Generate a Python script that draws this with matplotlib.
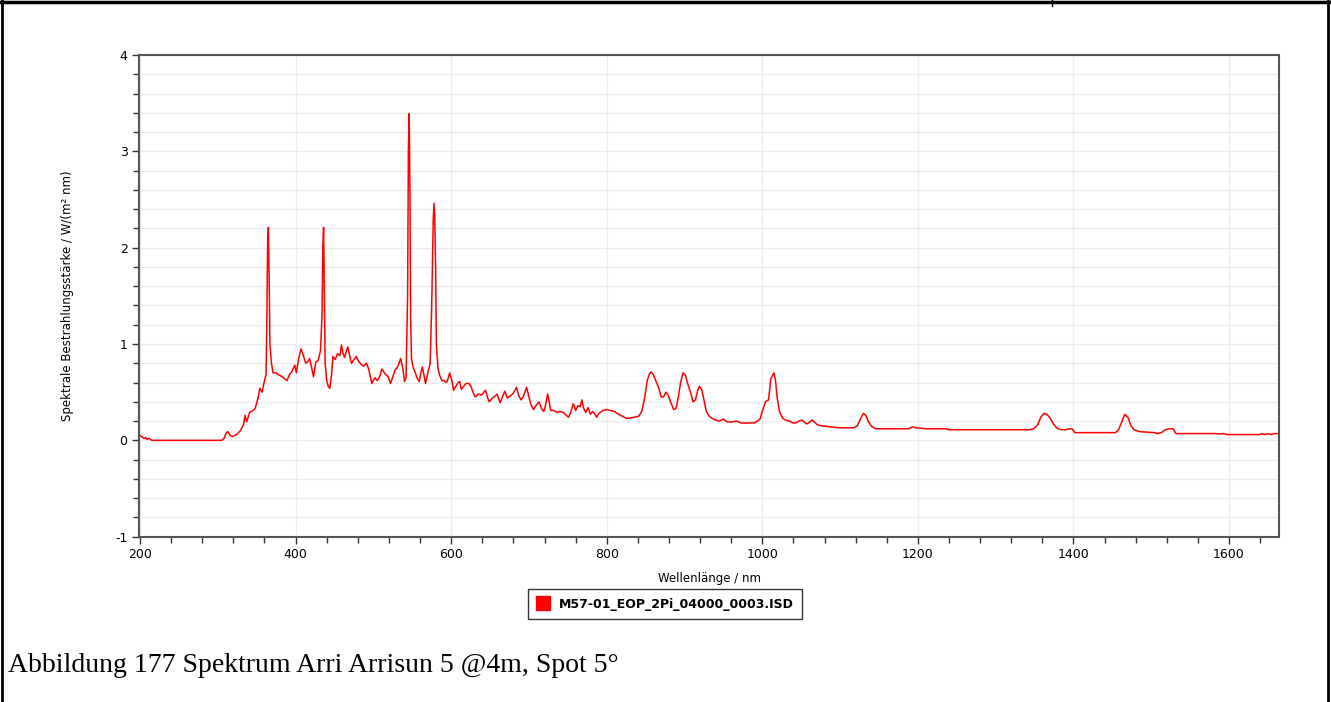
import numpy as np
import matplotlib
matplotlib.use("Agg")
import matplotlib.pyplot as plt
from matplotlib.lines import Line2D
from matplotlib.ticker import MultipleLocator

# wavelength in nm
wavelength = [
    198, 200, 202, 205, 207, 209, 212, 215, 220, 305, 308, 311, 313, 316, 319,
    324, 329, 333, 335, 337, 341, 345, 348, 352, 354, 357, 360, 362, 363, 364,
    365, 366, 367, 369, 371, 375, 378, 383, 389, 392, 395, 399, 401, 404, 407,
    410, 413, 416, 418, 421, 423, 426, 429, 432, 434, 435, 436, 437, 438, 440,
    442, 444, 446, 448, 451, 454, 457, 459, 461, 463, 465, 467, 470, 472, 475,
    478, 481, 483, 487, 491, 494, 498, 502, 505, 508, 511, 515, 519, 522, 525,
    528, 531, 535, 538, 540, 542, 544, 545, 546, 547, 548, 549, 551, 554, 556,
    559, 561, 563, 565, 567, 570, 573, 575, 577, 578, 579, 580, 581, 583, 585,
    588, 591, 594, 596, 598, 601, 603, 606, 609, 611, 613, 616, 619, 623, 626,
    628, 631, 635, 639, 642, 644, 647, 649, 652, 655, 659, 663, 666, 669, 672,
    676, 680, 684, 687, 690, 693, 697, 700, 703, 706, 709, 713, 716, 719, 721,
    724, 726, 728, 732, 736, 740, 744, 748, 751, 754, 757, 760, 763, 766, 768,
    770, 773, 776, 779, 782, 785, 787, 790, 795, 800, 805, 810, 815, 820, 825,
    830, 835, 841, 845, 849, 852, 855, 857, 860, 864, 867, 870, 873, 876, 879,
    882, 886, 889, 892, 895, 898, 901, 904, 908, 911, 914, 917, 919, 922, 925,
    928, 932, 935, 940, 945, 950, 955, 960, 967, 973, 980, 985, 989, 994, 997,
    1000, 1004, 1008, 1011, 1015, 1017, 1019, 1022, 1026, 1030, 1034, 1040, 1043, 1047, 1051,
    1054, 1057, 1061, 1064, 1067, 1071, 1077, 1087, 1100, 1110, 1117, 1122, 1126, 1130, 1133,
    1136, 1141, 1146, 1150, 1170, 1188, 1193, 1197, 1212, 1237, 1239, 1300, 1343, 1349, 1354,
    1358, 1362, 1366, 1370, 1375, 1380, 1385, 1390, 1394, 1398, 1402, 1430, 1454, 1458, 1462,
    1466, 1470, 1474, 1478, 1485, 1504, 1508, 1513, 1518, 1524, 1528, 1532, 1560, 1583, 1587,
    1593, 1598, 1640, 1642, 1646, 1650, 1654, 1658, 1664,
]

# spectral irradiance in W/(m² nm)
irradiance = [
    0.07, 0.05, 0.04, 0.02, 0.03, 0.01, 0.02, 0.0, 0.0, 0.0, 0.02, 0.08, 0.09, 0.05, 0.04,
    0.06, 0.10, 0.16, 0.26, 0.19, 0.29, 0.31, 0.33, 0.45, 0.54, 0.50, 0.62, 0.68, 1.2, 2.0,
    2.21, 1.7, 1.0, 0.80, 0.70, 0.70, 0.68, 0.66, 0.62, 0.68, 0.71, 0.78, 0.70, 0.85, 0.95,
    0.88, 0.80, 0.82, 0.85, 0.74, 0.66, 0.81, 0.83, 0.93, 1.3, 2.0, 2.21, 1.5, 0.8, 0.62,
    0.56, 0.54, 0.66, 0.87, 0.84, 0.90, 0.88, 0.99, 0.90, 0.86, 0.92, 0.97, 0.86, 0.80, 0.84,
    0.87, 0.82, 0.80, 0.77, 0.80, 0.74, 0.59, 0.65, 0.62, 0.66, 0.74, 0.69, 0.66, 0.59, 0.66,
    0.73, 0.76, 0.85, 0.74, 0.61, 0.65, 1.5, 3.0, 3.39, 2.6, 1.2, 0.85, 0.76, 0.70, 0.65,
    0.61, 0.70, 0.76, 0.68, 0.59, 0.70, 0.80, 1.4, 2.3, 2.46, 2.3, 1.8, 1.0, 0.75, 0.68,
    0.62, 0.62, 0.60, 0.64, 0.70, 0.62, 0.52, 0.56, 0.60, 0.61, 0.53, 0.56, 0.59, 0.59, 0.55,
    0.50, 0.45, 0.48, 0.47, 0.50, 0.52, 0.44, 0.40, 0.43, 0.45, 0.48, 0.39, 0.45, 0.51, 0.44,
    0.46, 0.49, 0.55, 0.46, 0.42, 0.46, 0.55, 0.45, 0.36, 0.32, 0.36, 0.40, 0.33, 0.30, 0.35,
    0.48, 0.40, 0.31, 0.31, 0.29, 0.30, 0.29, 0.26, 0.24, 0.30, 0.38, 0.31, 0.36, 0.35, 0.42,
    0.34, 0.29, 0.34, 0.27, 0.30, 0.27, 0.24, 0.28, 0.31, 0.32, 0.31, 0.30, 0.27, 0.25, 0.23,
    0.23, 0.24, 0.25, 0.30, 0.45, 0.62, 0.69, 0.71, 0.68, 0.60, 0.54, 0.45, 0.45, 0.50, 0.47,
    0.40, 0.32, 0.33, 0.45, 0.60, 0.70, 0.68, 0.59, 0.49, 0.40, 0.42, 0.52, 0.56, 0.53, 0.42,
    0.30, 0.25, 0.23, 0.21, 0.20, 0.22, 0.19, 0.19, 0.20, 0.18, 0.18, 0.18, 0.18, 0.20, 0.22,
    0.30, 0.40, 0.42, 0.64, 0.70, 0.62, 0.45, 0.30, 0.23, 0.21, 0.20, 0.18, 0.18, 0.20, 0.21,
    0.19, 0.17, 0.19, 0.21, 0.19, 0.16, 0.15, 0.14, 0.13, 0.13, 0.13, 0.15, 0.22, 0.28, 0.26,
    0.20, 0.14, 0.12, 0.12, 0.12, 0.12, 0.14, 0.13, 0.12, 0.12, 0.11, 0.11, 0.11, 0.12, 0.16,
    0.24, 0.28, 0.27, 0.23, 0.16, 0.12, 0.11, 0.11, 0.12, 0.12, 0.08, 0.08, 0.08, 0.11, 0.19,
    0.27, 0.24, 0.15, 0.11, 0.09, 0.08, 0.07, 0.08, 0.11, 0.12, 0.12, 0.07, 0.07, 0.07, 0.065,
    0.07, 0.06, 0.06, 0.07, 0.06, 0.07, 0.06, 0.07, 0.07,
]

series_name = "M57-01_EOP_2Pi_04000_0003.ISD"
caption = "Abbildung 177 Spektrum Arri Arrisun 5 @4m, Spot 5°"
x_ticks = [200, 400, 600, 800, 1000, 1200, 1400, 1600]
y_ticks = [-1, 0, 1, 2, 3, 4]

plt.rcParams['font.family'] = ['DejaVu Sans']
plt.rcParams['axes.unicode_minus'] = False

fig = plt.figure(figsize=(13.31, 7.02), dpi=100)
ax = fig.add_axes([0.1042, 0.2355, 0.8570, 0.6862])

ax.plot(wavelength, irradiance, color='#ff0000', lw=1.1, label=series_name)

ax.set_xlim(198.3, 1664.7)
ax.set_ylim(-1, 4)
ax.set_xticks(x_ticks)
ax.set_yticks(y_ticks)
ax.xaxis.set_minor_locator(MultipleLocator(40))
ax.yaxis.set_minor_locator(MultipleLocator(0.2))

ax.grid(True, which='major', axis='x', color='#ececec', lw=1)
ax.grid(True, which='both', axis='y', color='#ececec', lw=1)
ax.set_axisbelow(True)

for s in ax.spines.values():
    s.set_color('#555555')
    s.set_linewidth(1.5)

ax.tick_params(which='major', direction='out', length=5, width=1, color='#333333',
               labelsize=9, pad=3)
ax.tick_params(which='minor', direction='out', length=4, width=1, color='#333333')

ax.set_xlabel("Wellenlänge / nm", fontsize=8.5, labelpad=8)
ax.set_ylabel("Spektrale Bestrahlungsstärke / W/(m² nm)", fontsize=8.5, labelpad=30)

handle = Line2D([], [], color='#ff0000', marker='s', ls='none', markersize=10)
leg = fig.legend([handle], [series_name], loc='center', bbox_to_anchor=(0.4996, 0.1396),
                 frameon=True, fancybox=False, prop={'size': 9, 'weight': 'bold'},
                 handlelength=1.0, handletextpad=0.8, borderpad=0.7, borderaxespad=0)
leg.get_frame().set_edgecolor('black')
leg.get_frame().set_linewidth(1)

fig.text(8 / 1331, 1 - 665 / 702, caption, fontsize=20, va='center', ha='left',
         family='Liberation Serif')

# document table borders around the figure
fig.add_artist(Line2D([0, 1], [1 - 2 / 702, 1 - 2 / 702], color='black', lw=2.5,
                      transform=fig.transFigure))
fig.add_artist(Line2D([2 / 1331, 2 / 1331], [0, 1], color='black', lw=2,
                      transform=fig.transFigure))
fig.add_artist(Line2D([1328 / 1331, 1328 / 1331], [0, 1], color='black', lw=2,
                      transform=fig.transFigure))
fig.add_artist(Line2D([1052 / 1331, 1052 / 1331], [1, 1 - 6 / 702], color='black', lw=1,
                      transform=fig.transFigure))

fig.savefig("out.png", dpi=100)
